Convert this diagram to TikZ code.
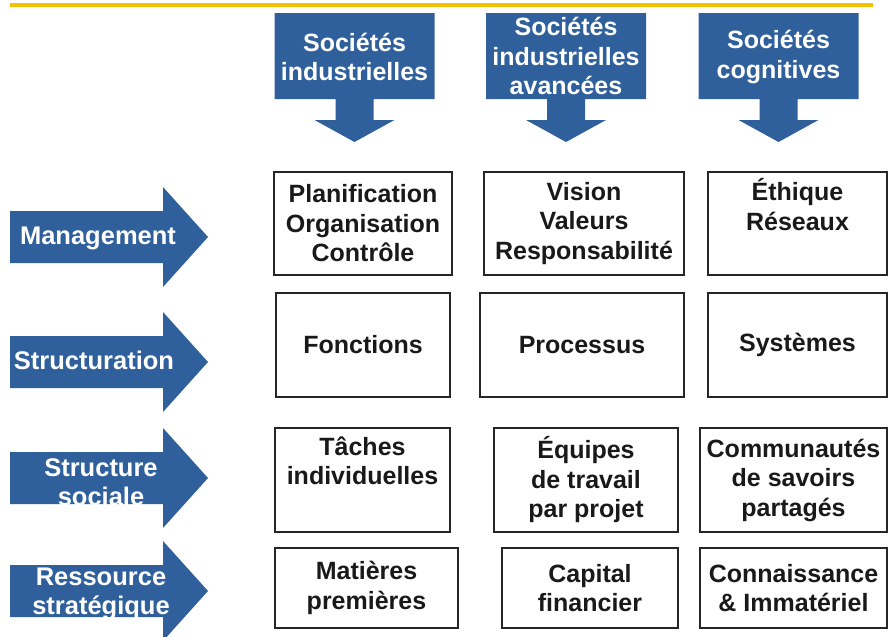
\documentclass[tikz,border=0pt]{standalone}
\usepackage{fontspec}
\setmainfont{Liberation Sans}

\definecolor{socblue}{RGB}{47,96,155}
\definecolor{rulegold}{RGB}{242,194,0}
\tikzset{
  cell/.style={draw=black!85, line width=2.2pt, inner sep=0pt, align=center,
    text=black!90, font=\bfseries\fontsize{25}{29.5}\selectfont},
  headtext/.style={text=white, inner sep=0pt, align=center,
    font=\bfseries\fontsize{25}{29.5}\selectfont},
  rowtext/.style={text=white, inner sep=0pt, align=center,
    font=\bfseries\fontsize{25.5}{29.5}\selectfont}
}

\begin{document}
\begin{tikzpicture}[x=1pt,y=-1pt]
  \useasboundingbox (0,0) rectangle (889,637);
  % rule at the top
  \draw[rulegold, line width=4pt] (10,5) -- (873,5);

  % top arrows
  \fill[socblue] (274.5,13) -- ++(160,0) -- ++(0,86) -- ++(-61,0) -- ++(0,21) -- ++(21,0)
    -- ++(-40,22) -- ++(-40,-22) -- ++(21,0) -- ++(0,-21) -- ++(-61,0) -- cycle;
  \fill[socblue] (486,13) -- ++(160,0) -- ++(0,86) -- ++(-61,0) -- ++(0,21) -- ++(21,0)
    -- ++(-40,22) -- ++(-40,-22) -- ++(21,0) -- ++(0,-21) -- ++(-61,0) -- cycle;
  \fill[socblue] (698.5,13) -- ++(160,0) -- ++(0,86) -- ++(-61,0) -- ++(0,21) -- ++(21,0)
    -- ++(-40,22) -- ++(-40,-22) -- ++(21,0) -- ++(0,-21) -- ++(-61,0) -- cycle;
  \node[headtext] (indus) at (354.5,57) {Sociétés\\industrielles};
  \node[headtext] (avance) at (566,56) {Sociétés\\industrielles\\avancées};
  \node[headtext] (cogni) at (778.5,57) {Sociétés\\cognitives};

  % left arrows
  \fill[socblue] (10,211) -- ++(153,0) -- ++(0,-24) -- ++(45,50) -- ++(-45,50) -- ++(0,-24) -- ++(-153,0) -- cycle;
  \fill[socblue] (10,336) -- ++(153,0) -- ++(0,-24) -- ++(45,50) -- ++(-45,50) -- ++(0,-24) -- ++(-153,0) -- cycle;
  \fill[socblue] (10,452) -- ++(153,0) -- ++(0,-24) -- ++(45,50) -- ++(-45,50) -- ++(0,-24) -- ++(-153,0) -- cycle;
  \fill[socblue] (10,565) -- ++(153,0) -- ++(0,-24) -- ++(45,50) -- ++(-45,50) -- ++(0,-24) -- ++(-153,0) -- cycle;
  \node[rowtext] (mgmt) at (98,238) {Management};
  \node[rowtext] (struct) at (94,360) {Structuration};
  \node[rowtext] (social) at (101,482) {Structure\\sociale};
  \node[rowtext] (ressrc) at (101,594) {Ressource\\stratégique};

  % management row
  \node[cell, minimum width=178pt, minimum height=103pt] (plan) at (363,223.5) {Planification\\Organisation\\Contrôle};
  \node[cell, minimum width=200pt, minimum height=103pt] (vision) at (584,223.5) {Vision\\Valeurs\\Responsabilité};
  \node[cell, minimum width=179pt, minimum height=103pt] (ethique) at (797.5,223.5) {Éthique\\Réseaux\\\strut};

  % structuration row
  \node[cell, minimum width=174pt, minimum height=104pt] (fonct) at (363,345) {Fonctions};
  \node[cell, minimum width=204pt, minimum height=104pt] (proc) at (582,345) {Processus};
  \node[cell, minimum width=179pt, minimum height=104pt] (syst) at (797.5,345) {Systèmes};

  % structure sociale row
  \node[cell, minimum width=175pt, minimum height=104pt] (taches) at (362.5,480) {Tâches\\individuelles\\\strut};
  \node[cell, minimum width=184pt, minimum height=104pt] (equipes) at (586,480) {Équipes\\de travail\\par projet};
  \node[cell, minimum width=187pt, minimum height=104pt] (commu) at (793.5,480) {Communautés\\de savoirs\\partagés};

  % ressource row
  \node[cell, minimum width=183pt, minimum height=80pt] (matieres) at (366.5,588) {Matières\\premières};
  \node[cell, minimum width=176pt, minimum height=80pt] (capital) at (590,588) {Capital\\financier};
  \node[cell, minimum width=187pt, minimum height=80pt] (connais) at (793.5,588) {Connaissance\\\& Immatériel};
\end{tikzpicture}
\end{document}
